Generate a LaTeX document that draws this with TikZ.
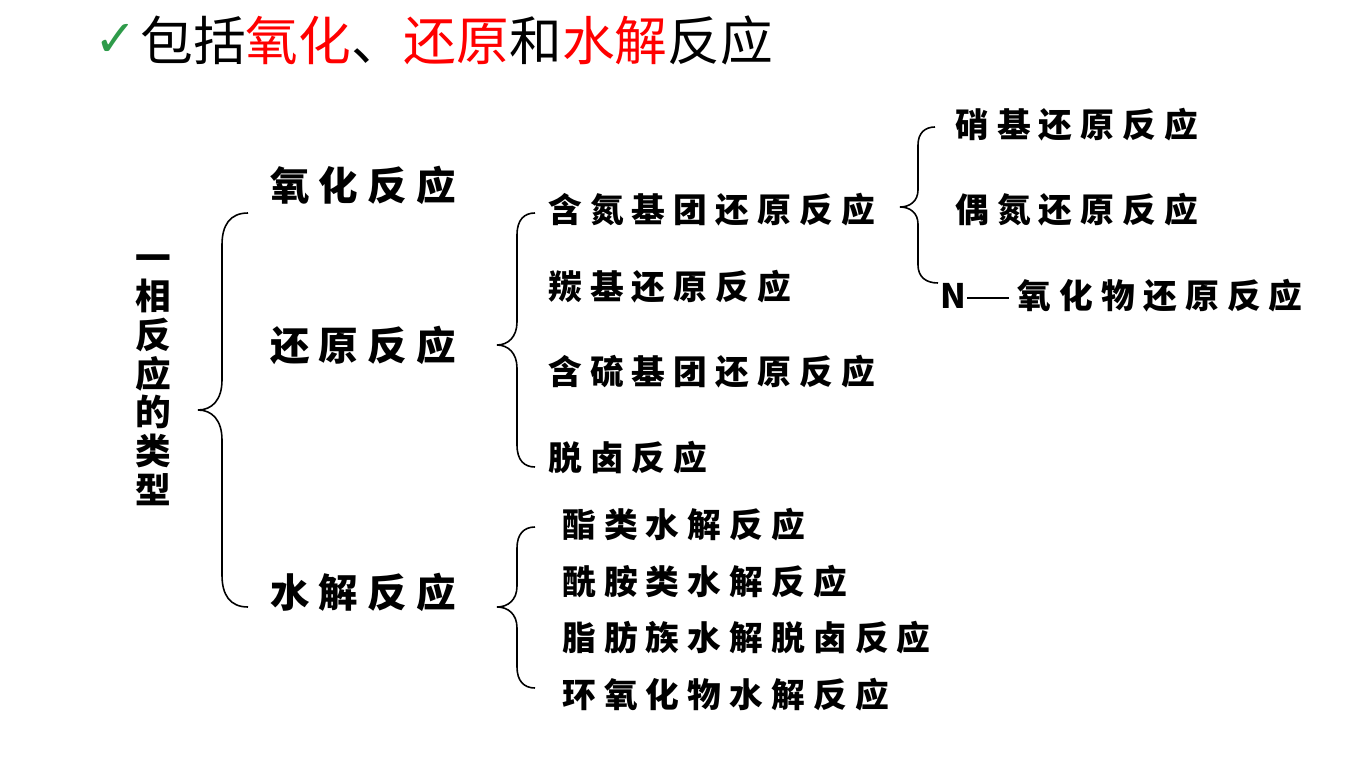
\documentclass[tikz,border=0pt]{standalone}
\usepackage{fontspec}
\newfontfamily\cjk{Noto Sans CJK SC}
\newfontfamily\cjkls[LetterSpace=24]{Noto Sans CJK SC}
\newfontfamily\cjklsa[LetterSpace=23]{Noto Sans CJK SC}
\newfontfamily\sym{DejaVu Sans}
\definecolor{chkgreen}{RGB}{46,155,74}
\definecolor{hlred}{RGB}{255,0,0}
\tikzset{
  lvla/.style={anchor=west,inner sep=0pt,font=\cjklsa\bfseries\fontsize{22.5pt}{24pt}\selectfont},
  lvlb/.style={anchor=west,inner sep=0pt,font=\cjkls\bfseries\fontsize{19.2pt}{21pt}\selectfont},
  brace/.style={draw=black,line width=0.9pt}
}
\begin{document}
\begin{tikzpicture}[x=0.02cm,y=-0.02cm]
\useasboundingbox (0,0) rectangle (1353,760);
% title
\node[anchor=west,inner sep=0pt,text=chkgreen,font=\sym\bfseries\fontsize{29pt}{32pt}\selectfont] (chk) at (94,40) {✓};
\node[anchor=west,inner sep=0pt,font=\cjk\fontsize{30pt}{32pt}\selectfont] (title) at (140,40)
  {包括\textcolor{hlred}{氧化}、\textcolor{hlred}{还原}和\textcolor{hlred}{水解}反应};
% root
\node[inner sep=0pt,align=center,font=\cjk\bfseries\fontsize{20.3pt}{22pt}\selectfont] (root) at (153,380)
  {一\\相\\反\\应\\的\\类\\型};
% left brace
\draw[brace] (248,213) .. controls (230,213) and (222,225) .. (222,245) -- (222,380)
  .. controls (222,400) and (212,410) .. (198,410)
  .. controls (212,410) and (222,420) .. (222,440) -- (222,575)
  .. controls (222,595) and (230,607) .. (248,607);
% level 1
\node[lvla] (ox) at (270,185) {氧化反应};
\node[lvla] (red) at (270,345) {还原反应};
\node[lvla] (hyd) at (270,592) {水解反应};
% reduction brace
\draw[brace] (535,213) .. controls (524,213) and (517,220) .. (517,235) -- (517,322)
  .. controls (517,337) and (508,345) .. (497,345)
  .. controls (508,345) and (517,353) .. (517,368) -- (517,445)
  .. controls (517,460) and (524,467) .. (535,467);
\node[lvlb] (nred) at (548,210) {含氮基团还原反应};
\node[lvlb] (cred) at (548,287) {羰基还原反应};
\node[lvlb] (sred) at (548,372) {含硫基团还原反应};
\node[lvlb] (dehal) at (548,458) {脱卤反应};
% nitrogen brace
\draw[brace] (935,127) .. controls (925,127) and (918,133) .. (918,145) -- (918,190)
  .. controls (918,201) and (910,207) .. (900,207)
  .. controls (910,207) and (918,213) .. (918,224) -- (918,265)
  .. controls (918,277) and (926,283) .. (938,283);
\node[lvlb] (nitro) at (955,125) {硝基还原反应};
\node[lvlb] (azo) at (955,210) {偶氮还原反应};
\node[lvlb] (noxide) at (940,296) {{\cjk\bfseries N}\kern0.5pt\rule[5.5pt]{24pt}{1.1pt}\kern5pt 氧化物还原反应};
% hydrolysis brace
\draw[brace] (535,527) .. controls (524,527) and (517,534) .. (517,548) -- (517,586)
  .. controls (517,600) and (508,607) .. (497,607)
  .. controls (508,607) and (517,614) .. (517,628) -- (517,667)
  .. controls (517,681) and (524,688) .. (535,688);
\node[lvlb] (ester) at (562,525) {酯类水解反应};
\node[lvlb] (amide) at (562,582) {酰胺类水解反应};
\node[lvlb] (alip) at (562,638) {脂肪族水解脱卤反应};
\node[lvlb] (epox) at (562,695) {环氧化物水解反应};
\end{tikzpicture}
\end{document}
